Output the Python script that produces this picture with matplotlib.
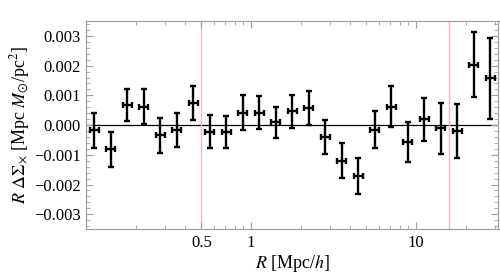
import matplotlib

matplotlib.use("Agg")
import matplotlib.pyplot as plt
import numpy as np
from matplotlib.ticker import FixedLocator, FuncFormatter, LogLocator, MultipleLocator, NullFormatter

# bin centres in Mpc/h (0.1 dex bins from 0.1 to ~31.6)
radius = [0.112, 0.141, 0.178, 0.224, 0.282, 0.355, 0.447, 0.562, 0.708, 0.891,
          1.12, 1.41, 1.78, 2.24, 2.82, 3.55, 4.47, 5.62, 7.08, 8.91,
          11.2, 14.1, 17.8, 22.4, 28.2]
# R * DeltaSigma_x (cross component) and its error
signal = [-0.00018, -0.00082, 0.00067, 0.00061, -0.00035, -0.00018, 0.00075, -0.00022,
          -0.00023, 0.00042, 0.00042, 0.00009, 0.00046, 0.00057, -0.00040, -0.00120,
          -0.00172, -0.00015, 0.00062, -0.00056, 0.00020, -0.00011, -0.00020, 0.00203,
          0.00157]
signal_err = [0.00058, 0.00060, 0.00055, 0.00059, 0.00058, 0.00057, 0.00058, 0.00056,
              0.00054, 0.00060, 0.00056, 0.00053, 0.00055, 0.00056, 0.00056, 0.00058,
              0.00060, 0.00062, 0.00068, 0.00067, 0.00072, 0.00086, 0.00091, 0.00110,
              0.00136]
radius_err_dex = 0.028
fit_limits = [0.5, 15.9]

plt.rcParams["font.family"] = ["Liberation Serif", "DejaVu Serif"]
plt.rcParams["mathtext.fontset"] = "stix"
plt.rcParams["axes.unicode_minus"] = True

r = np.array(radius)
x_lo = r - r / 10**radius_err_dex
x_hi = r * 10**radius_err_dex - r

fig = plt.figure(figsize=(5.0, 2.77), dpi=100)
ax = fig.add_axes([0.172, 0.173, 0.825, 0.751])

ax.axhline(0.0, color="black", lw=0.9, zorder=1)
for lim in fit_limits:
    ax.axvline(lim, color="#f6b9b9", lw=1.0, zorder=1)

ax.errorbar(radius, signal, yerr=signal_err, xerr=[x_lo, x_hi], fmt="none",
            ecolor="black", elinewidth=1.7, capsize=2.4, capthick=1.7, zorder=3)

ax.set_xscale("log")
ax.set_xlim(0.1, 10**1.5)
ax.set_ylim(-0.0035, 0.0035)

ax.xaxis.set_major_locator(FixedLocator([0.5, 1, 10]))
ax.xaxis.set_major_formatter(FuncFormatter(lambda v, _: f"{v:g}"))
ax.xaxis.set_minor_locator(LogLocator(base=10, subs=np.arange(1, 10), numticks=20))
ax.xaxis.set_minor_formatter(NullFormatter())
ax.yaxis.set_major_locator(MultipleLocator(0.001))
ax.yaxis.set_minor_locator(MultipleLocator(0.0002))
ax.yaxis.set_major_formatter(FuncFormatter(lambda v, _: f"{v:.3f}".replace("-", "\u2212")))

for spine in ax.spines.values():
    spine.set_color("#a0a0a0")
    spine.set_linewidth(0.9)
ax.tick_params(which="both", direction="in", top=True, right=True, color="#a0a0a0",
               labelsize=12, pad=4)
ax.tick_params(which="major", length=5, width=0.8)
ax.tick_params(which="minor", length=3, width=0.6)

ax.set_xlabel(r"$R$ [Mpc/$h$]", fontsize=13, labelpad=2)
ax.set_ylabel(r"$R\ \Delta\Sigma_{\times}$ [Mpc $M_{\odot}$/pc$^2$]", fontsize=13, labelpad=1)

fig.savefig("out.png", dpi=100)
